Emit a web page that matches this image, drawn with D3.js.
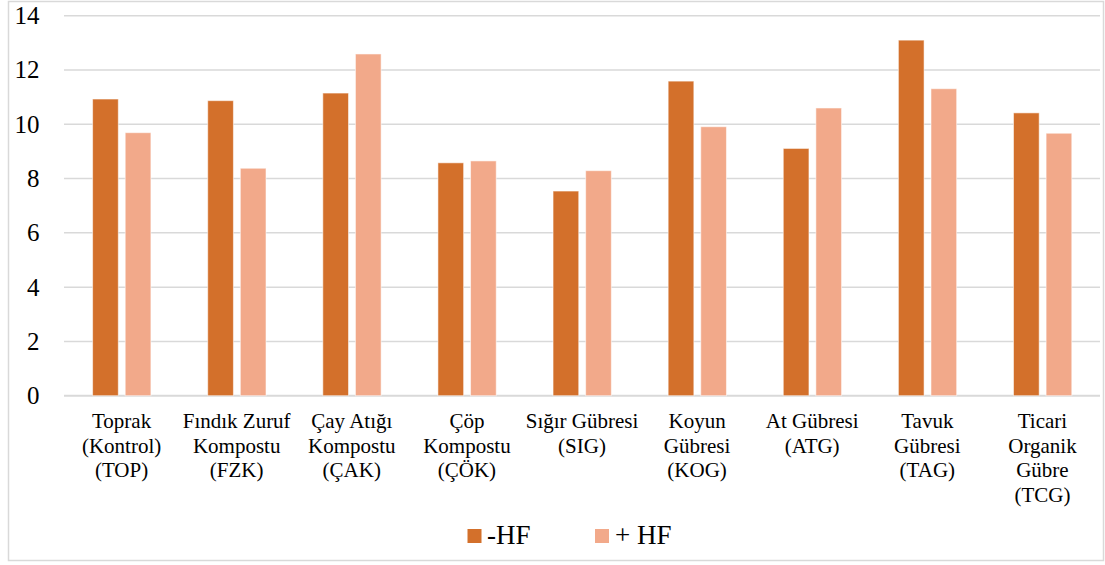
<!DOCTYPE html>
<html><head><meta charset="utf-8">
<script src="https://cdn.jsdelivr.net/npm/d3@7/dist/d3.min.js"></script>
</head><body style="margin:0">
<svg id="c" width="1105" height="565" style="font-family:'Liberation Serif';display:block"></svg>
<script>
const categories = [
  ["Toprak","(Kontrol)","(TOP)"],
  ["Fındık Zuruf","Kompostu","(FZK)"],
  ["Çay Atığı","Kompostu","(ÇAK)"],
  ["Çöp","Kompostu","(ÇÖK)"],
  ["Sığır Gübresi","(SIG)"],
  ["Koyun","Gübresi","(KOG)"],
  ["At Gübresi","(ATG)"],
  ["Tavuk","Gübresi","(TAG)"],
  ["Ticari","Organik","Gübre","(TCG)"]
];
const seriesNames = ["-HF","+ HF"];
const minusHF = [10.93, 10.87, 11.15, 8.58, 7.54, 11.59, 9.11, 13.10, 10.42];
const plusHF  = [9.69, 8.38, 12.59, 8.65, 8.29, 9.91, 10.60, 11.31, 9.67];
const yTicks = [0,2,4,6,8,10,12,14];
const colors = ["#D3702B","#F2A98A"];

const svgRoot = d3.select("#c");
svgRoot.append("rect").attr("x",8.5).attr("y",1.5).attr("width",1095).attr("height",559)
  .attr("fill","none").attr("stroke","#d9d9d9").attr("stroke-width",1.5);

const pL=64, pR=1100, pT=15.7, pB=395.7;
const keys = categories.map((c,i)=>i);
const x0 = d3.scaleBand().domain(keys).range([pL,pR]).padding(0);
const x1 = d3.scaleBand().domain([0,1]).range([28.6, 28.6+58.3]).paddingInner(0.212).paddingOuter(0);
const yS = d3.scaleLinear().domain([0,14]).range([pB,pT]);

svgRoot.append("g").selectAll("line").data(yTicks).join("line")
  .attr("x1",pL).attr("x2",pR)
  .attr("y1",d=>yS(d)).attr("y2",d=>yS(d))
  .attr("stroke","#d9d9d9").attr("stroke-width",d=>d===0?2:1.5);

svgRoot.append("g").selectAll("text").data(yTicks).join("text")
  .style("font-family","'Liberation Serif'")
  .attr("x",39.5).attr("y",d=>yS(d)).attr("dy","0.34em")
  .attr("text-anchor","end").style("font-size","25px").text(d=>d);

[minusHF,plusHF].forEach((vals,s)=>{
  svgRoot.append("g").selectAll("rect").data(vals).join("rect")
    .attr("x",(d,i)=>x0(i)+x1(s)).attr("width",x1.bandwidth())
    .attr("y",d=>yS(d)).attr("height",d=>yS(0)-yS(d))
    .attr("fill",colors[s]).attr("stroke","rgba(255,255,255,0.55)").attr("stroke-width",1);
});

categories.forEach((lines,i)=>{
  lines.forEach((ln,j)=>{
    svgRoot.append("text").style("font-family","'Liberation Serif'").style("font-size","21px")
      .attr("text-anchor","middle")
      .attr("x",x0(i)+x0.bandwidth()/2).attr("y",428+j*24.5).text(ln);
  });
});

const leg=[{x:467.5,tx:487},{x:595,tx:615}];
leg.forEach((l,s)=>{
  svgRoot.append("rect").attr("x",l.x).attr("y",529).attr("width",14).attr("height",14).attr("fill",colors[s]);
  svgRoot.append("text").style("font-family","'Liberation Serif'").style("font-size","27px")
    .attr("x",l.tx).attr("y",543.5).text(seriesNames[s]);
});
</script></body></html>
